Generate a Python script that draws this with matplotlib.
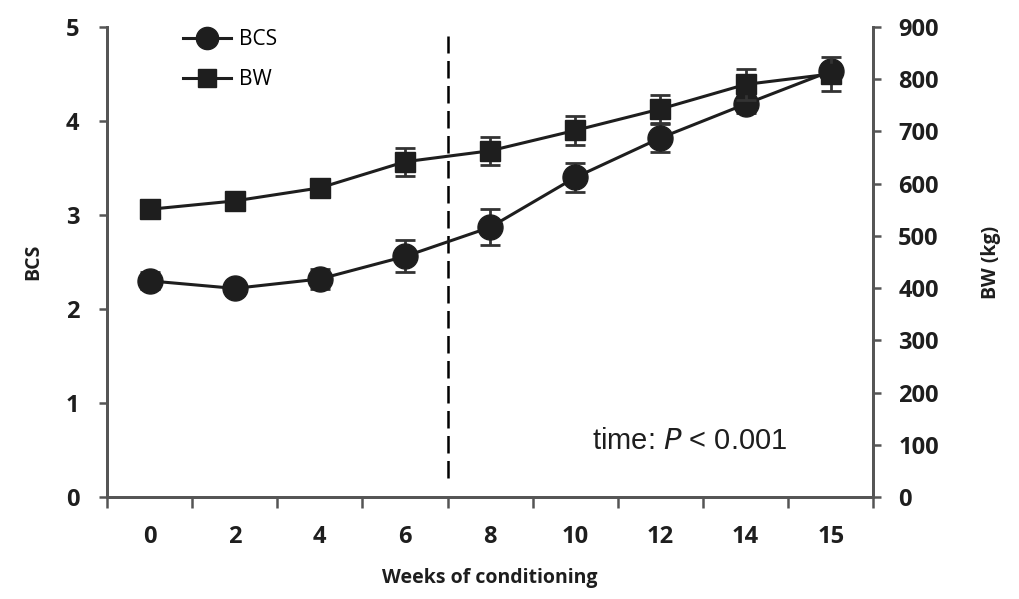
import matplotlib
matplotlib.use("Agg")
import matplotlib.pyplot as plt
from matplotlib.lines import Line2D

plt.rcParams['font.family'] = ['Open Sans', 'DejaVu Sans']

weeks = ['0', '2', '4', '6', '8', '10', '12', '14', '15']
bcs = [2.30, 2.22, 2.32, 2.56, 2.87, 3.40, 3.82, 4.18, 4.53]
bcs_err = [0.09, 0.07, 0.11, 0.17, 0.19, 0.15, 0.15, 0.10, 0.08]
bw = [551, 567, 592, 642, 663, 702, 743, 790, 810]
bw_err = [14, 12, 16, 27, 27, 27, 27, 29, 33]

x = list(range(len(weeks)))
spine_col = '#555555'
ink = '#1e1e1e'

fig = plt.figure(figsize=(10.19, 5.99), dpi=100)
ax = fig.add_axes([0.105, 0.170, 0.752, 0.785])
ax2 = ax.twinx()

# BCS on the left axis
ax.errorbar(x, bcs, yerr=bcs_err, color=ink, ecolor='#333333', marker='o',
            markersize=18, linewidth=2.2, elinewidth=2, capsize=7, capthick=2,
            zorder=3)
# BW on the right axis
ax2.errorbar(x, bw, yerr=bw_err, color=ink, ecolor='#333333', marker='s',
             markersize=15, linewidth=2.2, elinewidth=2, capsize=7, capthick=2,
             zorder=3)

ax.set_xlim(-0.5, len(weeks) - 0.5)
ax.set_ylim(0, 5)
ax2.set_ylim(0, 900)

# start of the second period
ax.axvline(3.5, ymin=0.04, ymax=0.98, color='black', linestyle=(0, (7, 3)),
           linewidth=1.8)

ax.set_xticks(x)
ax.set_xticklabels(weeks)
ax.set_xticks([i - 0.5 for i in range(len(weeks) + 1)], minor=True)
ax.tick_params(axis='x', which='major', length=0, pad=20, labelsize=17)
ax.tick_params(axis='x', which='minor', length=8, width=1.8, color=spine_col,
               direction='out')
ax.set_yticks([0, 1, 2, 3, 4, 5])
ax.tick_params(axis='y', length=6, width=1.8, color=spine_col, labelsize=17,
               pad=14)
ax2.set_yticks(range(0, 901, 100))
ax2.tick_params(axis='y', length=6, width=1.8, color=spine_col, labelsize=17,
                pad=12)

for t in ax.get_xticklabels() + ax.get_yticklabels() + ax2.get_yticklabels():
    t.set_fontweight('bold')
    t.set_color(ink)

for a in (ax, ax2):
    a.spines['top'].set_visible(False)
    for s in ('left', 'right', 'bottom'):
        a.spines[s].set_color(spine_col)
        a.spines[s].set_linewidth(2)

ax.set_xlabel('Weeks of conditioning', fontsize=14, fontweight='bold',
              color=ink, labelpad=14)
ax.set_ylabel('BCS', fontsize=14, fontweight='bold', color=ink, labelpad=16)
ax2.set_ylabel('BW (kg)', fontsize=14, fontweight='bold', color=ink,
               rotation=90, labelpad=30)

ax.text(0.76, 0.12, 'time: $\\it{P}$ < 0.001', transform=ax.transAxes,
        ha='center', va='center', fontsize=21, color=ink,
        family=['Liberation Sans', 'DejaVu Sans'])

handles = [
    Line2D([], [], color=ink, marker='o', markersize=16, linewidth=2.2),
    Line2D([], [], color=ink, marker='s', markersize=13, linewidth=2.2),
]
ax.legend(handles, ['BCS', 'BW'], loc='upper left', bbox_to_anchor=(0.075, 1.035),
          frameon=False, fontsize=15, handlelength=2.3, labelspacing=0.9,
          handletextpad=0.4)

fig.savefig('out.png', dpi=100)
